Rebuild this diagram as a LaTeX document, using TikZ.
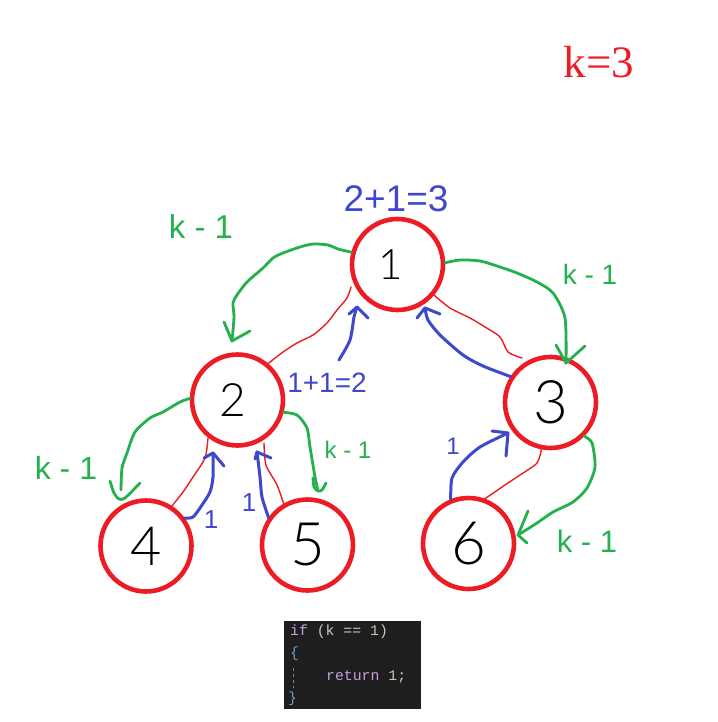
\documentclass[tikz,border=0pt]{standalone}
\usepackage{fontspec}
\setmainfont{Liberation Sans}
\newfontfamily\thinfont{Lato Light}
\newfontfamily\serifont{Liberation Serif}
\newfontfamily\codefont{Liberation Mono}
\definecolor{penred}{HTML}{ED1C24}
\definecolor{pengreen}{HTML}{22B14C}
\definecolor{penblue}{HTML}{3F48CC}
\definecolor{codebg}{HTML}{1E1E1E}
\definecolor{codekw}{HTML}{C9A0DC}
\definecolor{codetx}{HTML}{C8C8C8}
\definecolor{codenum}{HTML}{B5CEA8}
\definecolor{codebr}{HTML}{6A9FC8}
\tikzset{
  x=1pt,y=-1pt,
  ring/.style={circle,draw=penred,line width=4.6pt,minimum size=91pt,inner sep=0pt,outer sep=2pt,text=black,font=\thinfont},
  greenpen/.style={draw=pengreen,line width=2.8pt,line join=round,line cap=round},
  bluepen/.style={draw=penblue,line width=3pt,line join=round,line cap=round},
  redpen/.style={draw=penred,line width=1.4pt,line join=round,line cap=round},
  bluetxt/.style={text=penblue,inner sep=0pt},
  greentxt/.style={text=pengreen,inner sep=0pt},
  codeline/.style={anchor=base west,inner sep=0pt,font=\codefont\fontsize{14.8}{16}\selectfont},
  sm/.style={smooth,tension=.45}
}
\newcommand{\fs}[1]{\fontsize{#1}{#1}\selectfont}
\begin{document}
\begin{tikzpicture}
\useasboundingbox (0,0) rectangle (717,722);
% nodes
\node[ring] (n1) at (397.5,264.5) {\fs{42}\makebox[0pt]{\hspace*{-14pt}1}};
\node[ring] (n2) at (237.5,400) {\fs{46}\makebox[0pt]{\hspace*{-10pt}2}};
\node[ring] (n3) at (550.5,402.5) {\fs{60}3};
\node[ring] (n4) at (146,546) {\fs{54}4};
\node[ring] (n5) at (307.5,545) {\fs{60}5};
\node[ring] (n6) at (468.5,543.5) {\fs{60}6};
% free ends
\coordinate (t12) at (232,341);
\coordinate (t13) at (566,363);
\coordinate (t24) at (119,499);
\coordinate (t25) at (318,491);
\coordinate (t36) at (518,535);
\coordinate (b21) at (357,307);
\coordinate (b21s) at (339,360);
\coordinate (b31) at (425,308);
\coordinate (b42) at (213,453);
\coordinate (b52) at (257,452);
\coordinate (b63) at (508,433);
% red
\draw[redpen] plot[sm] coordinates {(351,287) (347,298) (337,310) (327,323) (313,335) (297,343) (283,352) (n2.50)};
\draw[redpen] plot[sm] coordinates {(n1.-40) (450,308) (470,318) (485,327) (500,337) (508,352) (522,358)};
\draw[redpen] plot[sm] coordinates {(208,438) (205,458) (193,477) (183,492) (n4.57)};
\draw[redpen] plot[sm] coordinates {(264,443) (266,465) (277,485) (n5.120)};
\draw[redpen] plot[sm] coordinates {(n3.-101) (537,463) (520,475) (505,485) (n6.70)};
% green
\draw[greenpen] plot[sm] coordinates {(n1.165) (338,249) (328,245) (313,244) (300,247) (283,253) (273,258) (263,268) (247,282) (237,295) (233,303) (234,317) (t12)};
\draw[greenpen] (224,322) -- (t12) -- (250,331);
\draw[greenpen] plot[sm] coordinates {(n1.2) (460,260) (480,261) (497,266) (517,273) (537,282) (553,293) (565,318) (t13)};
\draw[greenpen] (556,345) -- (t13) -- (585,346);
\draw[greenpen] plot[sm] coordinates {(n2.178) (180,402) (163,412) (150,418) (135,432) (127,453) (122,468) (121,490)};
\draw[greenpen] plot[sm] coordinates {(110,481) (114,493) (t24) (125,498) (140,483)};
\draw[greenpen] plot[sm] coordinates {(n2.-15) (297,415) (307,428) (310,447) (315,477) (t25)};
\draw[greenpen] plot[sm] coordinates {(313,478) (314,487) (t25) (322,490) (326,483)};
\draw[greenpen] plot[sm] coordinates {(n3.-45) (592,443) (595,467) (587,488) (573,502) (553,512) (537,523) (t36)};
\draw[greenpen] (528,511) -- (t36) -- (527,543);
% blue
\draw[bluepen] plot[sm] coordinates {(b21s) (350,340) (354,317) (b21)};
\draw[bluepen] (349,314) -- (b21) -- (368,318);
\draw[bluepen] plot[sm] coordinates {(n3.147) (483,366) (463,355) (440,335) (428,320) (b31)};
\draw[bluepen] (417,318) -- (b31) -- (440,314);
\draw[bluepen] plot[sm] coordinates {(n4.36) (193,517) (202,505) (210,492) (213,477) (b42)};
\draw[bluepen] (204,458) -- (b42) -- (224,466);
\draw[bluepen] plot[sm] coordinates {(n5.145) (262,497) (260,477) (b52)};
\draw[bluepen] (255,459) -- (b52) -- (271,458);
\draw[bluepen] plot[sm] coordinates {(n6.112) (452,478) (463,462) (480,447) (b63)};
\draw[bluepen] (492,431) -- (b63) -- (506,456);
% labels
\node[text=penred,inner sep=0pt] (kval) at (599,62) {\serifont\fs{45}k=3};
\node[bluetxt] (sum1) at (396,199) {\fs{37}2+1=3};
\node[bluetxt] (sum2) at (327,383) {\fs{28}1+1=2};
\node[greentxt] (lk1) at (201,227) {\fs{33}k - 1};
\node[greentxt] (lk2) at (590,274) {\fs{28}k - 1};
\node[greentxt] (lk3) at (66,468) {\fs{32}k - 1};
\node[greentxt] (lk4) at (348,450) {\fs{24}k - 1};
\node[greentxt] (lk5) at (587,541) {\fs{31}k - 1};
\node[bluetxt] (one1) at (211,520) {\fs{26}1};
\node[bluetxt] (one2) at (249,503) {\fs{26}1};
\node[bluetxt] (one3) at (453,446) {\fs{24}1};
% code box
\node[fill=codebg,minimum width=137pt,minimum height=88pt,inner sep=0pt,anchor=north west] (codebox) at (284,621) {};
\draw[codetx!60!codebg,line width=1pt,dash pattern=on 3pt off 3pt] (293,668) -- (293,688);
\node[codeline] (c1) at (290,635) {\textcolor{codekw}{if}\textcolor{codetx}{\ (k == }\textcolor{codenum}{1}\textcolor{codetx}{)}};
\node[codeline] (c2) at (290,657) {\textcolor{codebr}{\{}};
\node[codeline] (c3) at (326,680) {\textcolor{codekw}{return}\textcolor{codetx}{\ }\textcolor{codenum}{1}\textcolor{codetx}{;}};
\node[codeline] (c4) at (288,702) {\textcolor{codebr}{\}}};
\end{tikzpicture}
\end{document}
